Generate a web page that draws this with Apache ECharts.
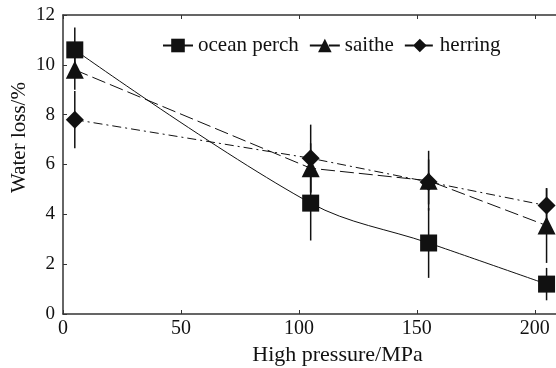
<!DOCTYPE html>
<html>
<head>
<meta charset="utf-8">
<script src="https://cdn.jsdelivr.net/npm/echarts@6/dist/echarts.min.js"></script>
<style>
  html, body { margin: 0; padding: 0; background: #fff; }
  #chart { width: 556px; height: 368px; }
</style>
</head>
<body>
<div id="chart"></div>
<script>
const pressure = [5, 105, 155, 205];
const xTicks = [0, 50, 100, 150, 200];
const yTicks = [0, 2, 4, 6, 8, 10, 12];

const oceanPerch = [10.6, 4.45, 2.85, 1.2];
const saithe = [9.8, 5.85, 5.35, 3.55];
const herring = [7.8, 6.25, 5.3, 4.35];

// half-length of the error bars
const oceanPerchErr = [0.9, 1.5, 1.4, 0.65];
const saitheErr = [0.8, 1.0, 1.2, 1.5];
const herringErr = [1.15, 1.35, 0.9, 0.7];

const serif = "'Liberation Serif'";
const ink = "#111";

const points = (vals) => pressure.map((x, i) => [x, vals[i]]);
const bars = (vals, errs) => pressure.map((x, i) => [x, vals[i] - errs[i], vals[i] + errs[i]]);

const errorSeries = (name, vals, errs) => ({
  name: name + " err",
  type: "custom",
  z: 1,
  silent: true,
  data: bars(vals, errs),
  renderItem(params, api) {
    const lo = api.coord([api.value(0), api.value(1)]);
    const hi = api.coord([api.value(0), api.value(2)]);
    return {
      type: "line",
      shape: { x1: lo[0], y1: lo[1], x2: hi[0], y2: hi[1] },
      style: { stroke: ink, lineWidth: 1.5 },
    };
  },
});

const lineSeries = (name, vals, symbol, size, lineType, smooth) => ({
  name,
  type: "line",
  z: 3,
  data: points(vals),
  symbol,
  symbolSize: size,
  smooth,
  itemStyle: { color: ink },
  lineStyle: { color: ink, width: 1, type: lineType },
});

const chart = echarts.init(document.getElementById("chart"), null, { renderer: "canvas" });

chart.setOption({
  backgroundColor: "#fff",
  animation: false,
  textStyle: { fontFamily: serif, color: ink },
  legend: {
    data: ["ocean perch", "saithe", "herring"],
    left: 162,
    top: 35,
    padding: 0,
    itemWidth: 30,
    itemHeight: 17,
    itemGap: 10,
    textStyle: { fontFamily: serif, fontSize: 21, color: ink },
  },
  grid: { left: 63, right: 0, top: 15, bottom: 54, outerBoundsMode: "none" },
  xAxis: [
    {
      type: "value",
      min: 0,
      max: 209,
      interval: 50,
      name: "High pressure/MPa",
      nameLocation: "middle",
      nameGap: 28,
      nameTextStyle: { fontFamily: serif, fontSize: 22, color: ink, padding: [0, 0, 0, 56] },
      axisLine: { show: true, lineStyle: { color: "#333", width: 1.5 } },
      axisTick: { show: true, inside: true, length: 4, lineStyle: { color: "#333" } },
      axisLabel: {
        fontFamily: serif,
        fontSize: 20,
        color: ink,
        margin: 5,
        formatter: (v) => (xTicks.includes(v) ? String(v) : ""),
      },
      splitLine: { show: false },
    },
    {
      type: "value",
      position: "top",
      min: 0,
      max: 209,
      interval: 50,
      axisLine: { show: true, lineStyle: { color: "#333", width: 1.5 } },
      axisTick: { show: true, inside: true, length: 4, lineStyle: { color: "#333" } },
      axisLabel: { show: false },
      splitLine: { show: false },
    },
  ],
  yAxis: {
    type: "value",
    min: 0,
    max: 12,
    interval: 2,
    name: "Water loss/%",
    nameLocation: "middle",
    nameGap: 33,
    nameMoveOverlap: false,
    nameTextStyle: { fontFamily: serif, fontSize: 21, color: ink, padding: [0, 0, 0, 54] },
    axisLine: { show: true, lineStyle: { color: "#333", width: 1.5 } },
    axisTick: { show: true, inside: true, length: 4, lineStyle: { color: "#333" } },
    axisLabel: {
      fontFamily: serif,
      fontSize: 19,
      color: ink,
      margin: 8,
      formatter: (v) => (yTicks.includes(v) ? String(v) : ""),
    },
    splitLine: { show: false },
  },
  series: [
    errorSeries("ocean perch", oceanPerch, oceanPerchErr),
    errorSeries("saithe", saithe, saitheErr),
    errorSeries("herring", herring, herringErr),
    lineSeries("ocean perch", oceanPerch, "rect", 17, "solid", 0.35),
    lineSeries("saithe", saithe, "triangle", 18, [14, 5], false),
    lineSeries("herring", herring, "diamond", 18, [9, 4, 2, 4], false),
  ],
});
</script>
</body>
</html>
